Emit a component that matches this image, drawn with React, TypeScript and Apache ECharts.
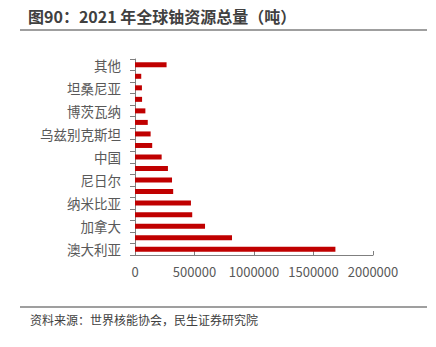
import React, { useEffect, useRef } from "react";
import * as echarts from "echarts";

const categories = [
  "澳大利亚", "哈萨克斯坦", "加拿大", "俄罗斯", "纳米比亚", "南非", "尼日尔", "巴西",
  "中国", "蒙古", "乌兹别克斯坦", "乌克兰", "博茨瓦纳", "美国", "坦桑尼亚", "约旦", "其他",
];
const resources = [
  1684100, 815200, 588500, 480900, 470100, 320900, 311100, 276800,
  223900, 144600, 131300, 107200, 87200, 59400, 58200, 52500, 265300,
];
const xTicks = [0, 500000, 1000000, 1500000, 2000000];

const FONT = "'Noto Sans CJK SC', 'Noto Sans', sans-serif";

export default function App() {
  const ref = useRef<HTMLDivElement>(null);
  useEffect(() => {
    const chart = echarts.init(ref.current!, null, { renderer: "svg" });
    chart.setOption({
      animation: false,
      textStyle: { fontFamily: FONT },
      graphic: [
        {
          type: "text",
          left: 28,
          top: 8,
          style: {
            text: "图90：2021 年全球铀资源总量（吨）",
            font: `bold 16px ${FONT}`,
            fill: "#404040",
          },
        },
        {
          type: "line",
          shape: { x1: 20, y1: 30, x2: 427, y2: 30 },
          style: { stroke: "#7f7f7f", lineWidth: 1.5 },
        },
        {
          type: "line",
          shape: { x1: 20, y1: 307, x2: 427, y2: 307 },
          style: { stroke: "#7f7f7f", lineWidth: 1.5 },
        },
        {
          type: "text",
          left: 30,
          top: 313,
          style: {
            text: "资料来源：世界核能协会，民生证券研究院",
            font: `12px ${FONT}`,
            fill: "#404040",
          },
        },
      ],
      grid: { left: 135, right: 63, top: 59, bottom: 92, containLabel: false },
      xAxis: {
        type: "value",
        min: xTicks[0],
        max: xTicks[xTicks.length - 1],
        interval: 500000,
        splitLine: { show: false },
        axisLine: { show: true, lineStyle: { color: "#7f7f7f" } },
        axisTick: { show: true, inside: true, length: 4, lineStyle: { color: "#7f7f7f" } },
        axisLabel: {
          color: "#595959",
          fontSize: 13,
          margin: 10,
          fontFamily: FONT,
          formatter: (v: number) => String(v),
        },
      },
      yAxis: {
        type: "category",
        data: categories,
        axisLine: { show: true, lineStyle: { color: "#7f7f7f" } },
        axisTick: { show: true, length: 5, interval: 0, lineStyle: { color: "#7f7f7f" } },
        axisLabel: { color: "#595959", fontSize: 13.5, interval: 1, margin: 14, fontFamily: FONT },
      },
      series: [
        {
          type: "bar",
          data: resources,
          barWidth: 5,
          itemStyle: { color: "#C00000" },
        },
      ],
    });
    return () => chart.dispose();
  }, []);
  return (
    <div
      ref={ref}
      style={{ width: 436, height: 347, position: "absolute", left: 0, top: 0 }}
    />
  );
}
